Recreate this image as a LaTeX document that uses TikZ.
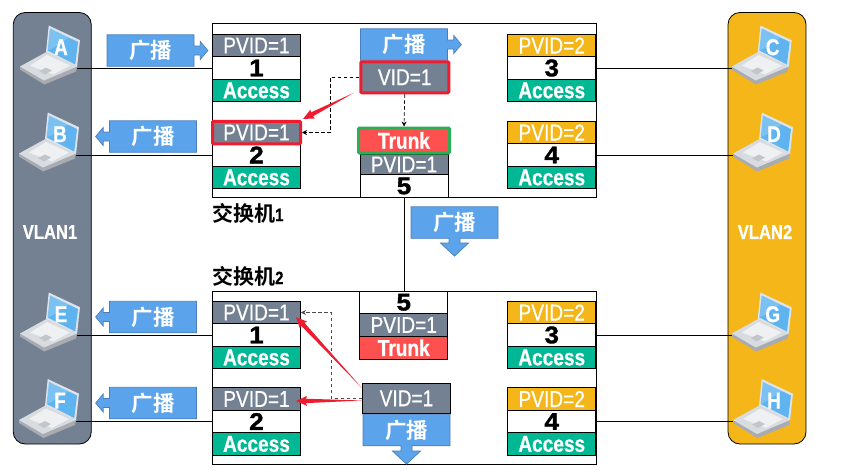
\documentclass[tikz,border=0pt]{standalone}
\usepackage{fontspec}
\newfontfamily\cellfont[FakeStretch=0.83,FakeBold=0.6]{Liberation Sans}
\newfontfamily\modefont[FakeStretch=0.83,FakeBold=0.5]{Liberation Sans Bold}
\newfontfamily\numfont[FakeStretch=1.08,FakeBold=1.6]{Liberation Sans Bold}
\newfontfamily\cjkfont{Noto Sans CJK SC Bold}
\usetikzlibrary{arrows.meta,calc,shapes.arrows}
\definecolor{vlGray}{HTML}{748193}
\definecolor{vlBlue}{HTML}{5BA4EC}
\definecolor{vlEdge}{HTML}{4A7EBB}
\definecolor{vlGold}{HTML}{F4B618}
\definecolor{vlGreen}{HTML}{00B994}
\definecolor{vlRed}{HTML}{FF5050}
\definecolor{vlAlert}{HTML}{EE1C2E}
\definecolor{vlLine}{HTML}{2DAE56}
\definecolor{vlScreen}{HTML}{5FB4F0}
\definecolor{vlFrame}{HTML}{DDE3EA}
\definecolor{vlBase}{HTML}{D8DBDF}
\definecolor{vlSide}{HTML}{A8ACB2}
\definecolor{vlKeys}{HTML}{EEF0F2}
\tikzset{
  vl panel/.style={draw=black, line width=0.8pt, rounded corners=12pt, minimum width=78pt, minimum height=431.5pt},
  vl switch/.style={draw=black, line width=0.8pt, fill=white, minimum width=384pt, minimum height=173.5pt},
  vl cell/.style={draw=black, line width=0.8pt, minimum width=88pt, minimum height=22.5pt, inner sep=0pt},
  vl pvid/.style={vl cell, fill=#1, text=white, font=\fontsize{23}{23}\cellfont},
  vl num/.style={vl cell, fill=white, font=\fontsize{24}{24}\numfont},
  vl mode/.style={vl cell, fill=#1, text=white, font=\fontsize{23}{23}\modefont},
  vl cast/.style={arrow box, draw=vlEdge, fill=vlBlue, text=white, line width=0.7pt, inner sep=0pt,
    minimum width=87pt, minimum height=31.5pt, arrow box shaft width=9pt, arrow box head extend=4.5pt,
    arrow box tip angle=100, font=\fontsize{21.5}{21.5}\cjkfont},
  vl drop/.style={arrow box shaft width=11pt, arrow box head extend=8.5pt, arrow box tip angle=94},
  vl title/.style={anchor=west, inner sep=0pt, font=\fontsize{21}{21}\cjkfont},
  vl link/.style={draw=black, line width=0.8pt},
  vl dash/.style={draw=black, line width=0.7pt, dash pattern=on 3.5pt off 2.5pt, -{Stealth[length=5pt,width=5pt]}},
  vl taper/.style={fill=vlAlert, to path={
    -- ($(\tikztotarget)!10pt!(\tikztostart)!2.2pt!90:(\tikztotarget)$)
    -- ($(\tikztotarget)!11pt!(\tikztostart)!5pt!90:(\tikztotarget)$)
    -- (\tikztotarget)
    -- ($(\tikztotarget)!11pt!(\tikztostart)!5pt!-90:(\tikztotarget)$)
    -- ($(\tikztotarget)!10pt!(\tikztostart)!2.2pt!-90:(\tikztotarget)$)
    -- cycle}},
  pics/laptop/.style={code={
    \fill[vlFrame] (-28.3,-42.5)--(3,-27.8)--(0,-0.5)--(-31,-15.8)--cycle;
    \fill[vlScreen] (-27,-39.5)--(1,-26)--(-1.8,-3.5)--(-29.3,-17.5)--cycle;
    \fill[white,opacity=.18] (-27,-39.5)--(-8,-30.5)--(-24,-20)--(-29.3,-17.5)--cycle;
    \fill[vlSide] (-57,-1.5)--(-57,1.5)--(-32.7,16.5)--(-1,3.5)--(0,-1.5)--cycle;
    \fill[vlBase] (-57,-1.5)--(-31,-15.8)--(0,-1.5)--(-33,12.5)--cycle;
    \fill[vlKeys] (-47,-2.5)--(-30,-13)--(-7,-2.5)--(-24,6.5)--cycle;
    \fill[vlSide!70!white] (-38,3)--(-31,-0.5)--(-25,2.5)--(-32,6.5)--cycle;
    \coordinate (-port) at (0,0);
    \coordinate (-lport) at (-57,0);
    \node[text=white, inner sep=0pt, font=\fontsize{23}{23}\modefont] (-letter) at (-16,-20.8) {#1};
  }},
}

\begin{document}
\begin{tikzpicture}[x=1pt,y=-1pt]
\useasboundingbox(0,0)rectangle(857,471);
\node[vl panel,fill=vlGray](vlan1)at(52.25,228.25){};
\node[vl panel,fill=vlGold](vlan2)at(767,228.25){};
\node[text=white,font=\fontsize{20}{20}\modefont](vlan1text)at(50,232){VLAN1};
\node[text=white,font=\fontsize{20}{20}\modefont](vlan2text)at(765,232){VLAN2};
\node[vl switch](sw1)at(404,110.25){};
\node[vl switch](sw2)at(404,378){};
\draw[vl link](sw1.south)--(sw2.north);
\node[vl title](title1)at(212,213){交换机{\modefont\fontsize{18}{18}\selectfont 1}};
\node[vl title](title2)at(212,276){交换机{\modefont\fontsize{18}{18}\selectfont 2}};
% access ports
\foreach \pname/\px/\py/\pnum/\pvlan/\pcol in {a/256.5/68/1/1/vlGray,b/256.5/155/2/1/vlGray,c/551.75/68/3/2/vlGold,d/551.75/155/4/2/vlGold,e/256.5/335/1/1/vlGray,f/256.5/421.5/2/1/vlGray,g/551.75/335/3/2/vlGold,h/551.75/421.5/4/2/vlGold}{
  \node[vl pvid=\pcol](pvid\pname)at(\px,\py-22.5){PVID=\pvlan};
  \node[vl num](num\pname)at(\px,\py){\pnum};
  \node[vl mode=vlGreen](acc\pname)at(\px,\py+22.5){Access};
}
% hosts
\pic(pcA)at(77,68){laptop=A};
\pic(pcB)at(76,155){laptop=B};
\pic(pcE)at(77,335){laptop=E};
\pic(pcF)at(76,421.5){laptop=F};
\pic(pcC)at(788.7,68){laptop=C};
\pic(pcD)at(790,155){laptop=D};
\pic(pcG)at(788.7,335){laptop=G};
\pic(pcH)at(790,421.5){laptop=H};
\draw[vl link](pcA-port)--(numa.west);
\draw[vl link](pcB-port)--(numb.west);
\draw[vl link](pcE-port)--(nume.west);
\draw[vl link](pcF-port)--(numf.west);
\draw[vl link](numc.east)--(pcC-lport);
\draw[vl link](numd.east)--(pcD-lport);
\draw[vl link](numg.east)--(pcG-lport);
\draw[vl link](numh.east)--(pcH-lport);
% trunk port of switch 1
\node[vl num](num5a)at(404,186){5};
\node[vl pvid=vlGray,minimum height=20.5pt](pvid5a)at(404,164.5){PVID=1};
\node[vl mode=vlRed,draw=vlLine,line width=3pt,rounded corners=1pt,minimum width=91pt,minimum height=25pt](trunka)at(404,140.5){Trunk};
% trunk port of switch 2
\node[vl num](num5b)at(403.75,302.25){5};
\node[vl pvid=vlGray](pvid5b)at(403.75,325){PVID=1};
\node[vl mode=vlRed](trunkb)at(403.75,347.75){Trunk};
% broadcast arrows
\node[vl cast,arrow box arrows={east:13.5pt}](castA)at(150.5,50.5){广播};
\node[vl cast,arrow box arrows={west:13.5pt}](castB)at(153,136.5){广播};
\node[vl cast,arrow box arrows={west:13.5pt}](castE)at(153,317){广播};
\node[vl cast,arrow box arrows={west:13.5pt}](castF)at(153,403){广播};
\node[vl cast,arrow box arrows={east:13.5pt}](castS)at(404,44.5){广播};
\node[vl cast,vl drop,arrow box arrows={south:17.5pt}](castT)at(454.5,222.5){广播};
\node[vl cast,vl drop,arrow box arrows={south:18pt}](castV)at(406.5,430){广播};
% vlan tags
\node[vl pvid=vlGray,draw=vlAlert,line width=3pt,rounded corners=1pt,minimum width=88pt,minimum height=31pt](vida)at(404.75,77.25){VID=1};
\node[vl pvid=vlGray,minimum height=30pt](vidb)at(406.5,398.3){VID=1};
\node[vl pvid=vlGray,draw=vlAlert,line width=3pt,rounded corners=1pt](pvidb)at(256.5,132.5){PVID=1};
% forwarding paths
\coordinate(benda)at(330,132.5);
\coordinate(bendb)at(331,312.5);
\draw[vl dash](vida.west)-|(benda)--(pvidb.east);
\draw[vl dash](vida.south)--(trunka.north);
\draw[vl dash,draw=black!70](vidb.west)-|(bendb)--(pvide.east);
\coordinate(taila)at(353.5,93);
\coordinate(tipa)at(303,119);
\coordinate(tailb)at(362,388);
\coordinate(tipb)at(296,317);
\coordinate(tailc)at(362,400.5);
\coordinate(tipc)at(296,401);
\path[vl taper](taila)to(tipa);
\path[vl taper](tailb)to(tipb);
\path[vl taper](tailc)to(tipc);
\end{tikzpicture}
\end{document}
